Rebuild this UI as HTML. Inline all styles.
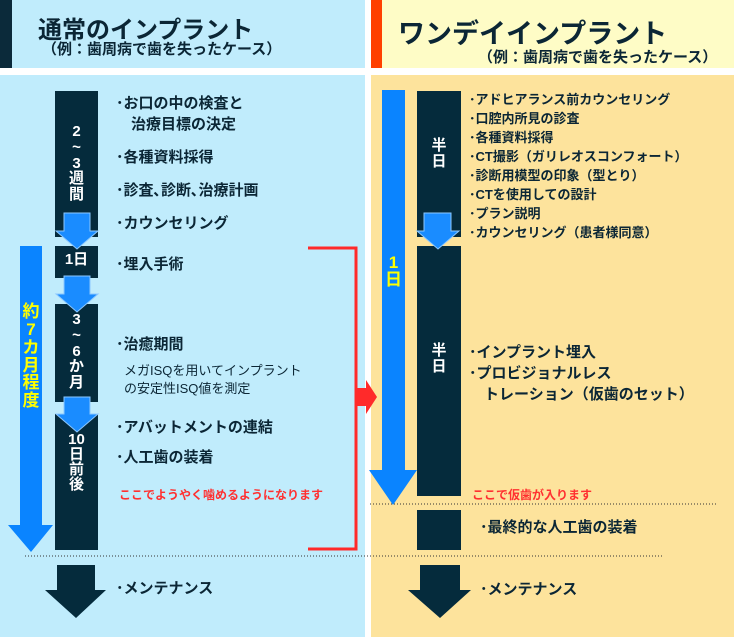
<!DOCTYPE html>
<html><head><meta charset="utf-8"><style>
*{margin:0;padding:0}
body{width:734px;height:637px;position:relative;overflow:hidden;background:#fff;font-family:"Liberation Sans","Noto Sans CJK JP",sans-serif;font-weight:bold}
div{position:absolute}
.d{background:#052b3c}
.t{color:#0b2635;white-space:nowrap}
.v{color:#fff;text-align:center;line-height:1.05}
svg{position:absolute}
</style></head><body>
<div style="left:0;top:0;width:365px;height:68px;background:#c0ecfc"></div>
<div style="left:0;top:0;width:12px;height:68px;background:#0b2a3a"></div>
<div style="left:0;top:75px;width:365px;height:562px;background:#c0ecfc"></div>
<div style="left:371px;top:0;width:363px;height:68px;background:#fefcc6"></div>
<div style="left:371px;top:0;width:11px;height:68px;background:#ff4000"></div>
<div style="left:371px;top:75px;width:363px;height:562px;background:#fde39c"></div>

<div class="t" style="left:38px;top:10px;font-size:24px">通常のインプラント</div>
<div class="t" style="left:42px;top:38px;font-size:15px">（例：歯周病で歯を失ったケース）</div>
<div class="t" style="left:398px;top:12px;font-size:27px">ワンデイインプラント</div>
<div class="t" style="left:478px;top:46px;font-size:15px">（例：歯周病で歯を失ったケース）</div>

<div class="d" style="left:55px;top:91px;width:43px;height:146px"></div>
<div class="d" style="left:55px;top:246px;width:43px;height:32px"></div>
<div class="d" style="left:55px;top:304px;width:43px;height:98px"></div>
<div class="d" style="left:55px;top:414px;width:43px;height:136px"></div>
<div class="d" style="left:417px;top:91px;width:44px;height:146px"></div>
<div class="d" style="left:417px;top:246px;width:44px;height:250px"></div>
<div class="d" style="left:417px;top:510px;width:44px;height:40px"></div>
<svg width="734" height="637" style="left:0;top:0">
<g fill="#1a8cff" stroke="#8cc8ff" stroke-width="1">
<polygon points="64,213 90,213 90,231 98,231 77,249 56,231 64,231"/>
<polygon points="64,276 90,276 90,294 98,294 77,312 56,294 64,294"/>
<polygon points="64,397 90,397 90,414 98,414 77,432 56,414 64,414"/>
<polygon points="424,213 451,213 451,231 459,231 438,249 417,231 424,231"/>
</g>
<polygon fill="#0a84ff" points="20,246 42,246 42,525 53,525 31,552 8,525 20,525"/>
<polygon fill="#0a84ff" points="382,90 405,90 405,470 417,470 393,505 369,470 382,470"/>
<polygon fill="#052b3c" points="57,565 95,565 95,590 106,590 76,618 45,590 57,590"/>
<polygon fill="#052b3c" points="420,565 460,565 460,590 471,590 440,618 408,590 420,590"/>
<polyline fill="none" stroke="#ff2a2a" stroke-width="3" points="308,248 356,248 356,549 308,549"/>
<polygon fill="#ff2a2a" points="357,388 366,388 366,380 377,397 366,414 366,406 357,406"/>
<line x1="25" y1="556" x2="662" y2="556" stroke="#333" stroke-width="1" stroke-dasharray="1,2"/>
<line x1="370" y1="504" x2="717" y2="504" stroke="#333" stroke-width="1" stroke-dasharray="1,2"/>
</svg>
<div class="v" style="left:55px;top:124px;width:43px;font-size:15px">2<br>~<br>3<br>週<br>間</div>
<div class="v" style="left:55px;top:252px;width:43px;font-size:15px">1日</div>
<div class="v" style="left:55px;top:312px;width:43px;font-size:15px">3<br>~<br>6<br>か<br>月</div>
<div class="v" style="left:55px;top:432px;width:43px;font-size:15px;line-height:1">10<br>日<br>前<br>後</div>
<div class="v" style="left:20px;top:303px;width:22px;font-size:17px;color:#ffff00;line-height:1.05">約<br>7<br>カ<br>月<br>程<br>度</div>

<div class="t" style="left:116px;top:93px;font-size:15px;line-height:21px">･お口の中の検査と<br>　治療目標の決定</div>
<div class="t" style="left:116px;top:146px;font-size:15px">･各種資料採得</div>
<div class="t" style="left:116px;top:179px;font-size:15px">･診査､診断､治療計画</div>
<div class="t" style="left:116px;top:212px;font-size:15px">･カウンセリング</div>
<div class="t" style="left:116px;top:253px;font-size:15px">･埋入手術</div>
<div class="t" style="left:116px;top:333px;font-size:15px">･治癒期間</div>
<div class="t" style="left:124px;top:362px;font-size:13px;font-weight:normal;line-height:18px">メガISQを用いてインプラント<br>の安定性ISQ値を測定</div>
<div class="t" style="left:116px;top:416px;font-size:15px">･アバットメントの連結</div>
<div class="t" style="left:116px;top:446px;font-size:15px">･人工歯の装着</div>
<div class="t" style="left:119px;top:486px;font-size:12px;color:#ff3030">ここでようやく噛めるようになります</div>
<div class="t" style="left:116px;top:577px;font-size:15px">･メンテナンス</div>

<div class="v" style="left:417px;top:138px;width:44px;font-size:15px">半<br>日</div>
<div class="v" style="left:417px;top:343px;width:44px;font-size:15px">半<br>日</div>
<div class="v" style="left:382px;top:254px;width:23px;font-size:17px;color:#ffff00;line-height:1">1<br>日</div>

<div class="t" style="left:469px;top:90px;font-size:13px;line-height:19px">･アドヒアランス前カウンセリング<br>･口腔内所見の診査<br>･各種資料採得<br>･CT撮影（ガリレオスコンフォート）<br>･診断用模型の印象（型とり）<br>･CTを使用しての設計<br>･プラン説明<br>･カウンセリング（患者様同意）</div>
<div class="t" style="left:469px;top:342px;font-size:15px;line-height:21px">･インプラント埋入<br>･プロビジョナルレス<br>　トレーション（仮歯のセット）</div>
<div class="t" style="left:472px;top:486px;font-size:12px;color:#ff3030">ここで仮歯が入ります</div>
<div class="t" style="left:480px;top:516px;font-size:15px">･最終的な人工歯の装着</div>
<div class="t" style="left:480px;top:578px;font-size:15px">･メンテナンス</div>
</body></html>
